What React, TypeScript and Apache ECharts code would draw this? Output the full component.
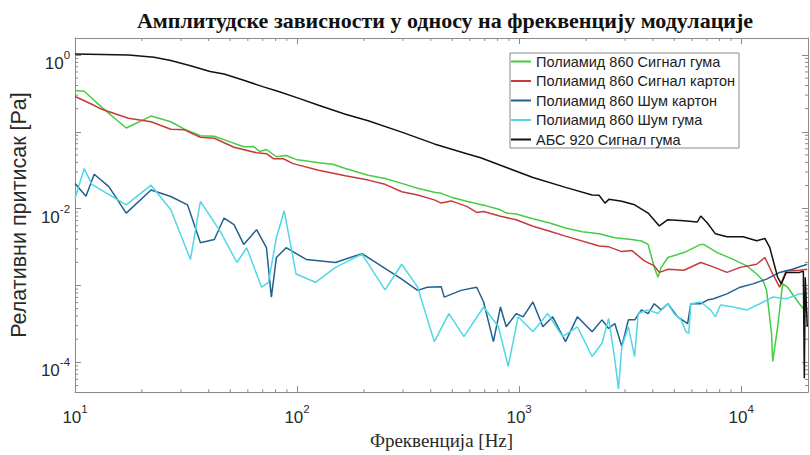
import React, { useEffect, useRef } from "react";
import * as echarts from "echarts";

const TITLE = "Амплитудске зависности у односу на фреквенцију модулације";
const X_NAME = "Фреквенција [Hz]";
const Y_NAME = "Релативни притисак [Pa]";
const SERIES_NAMES = [
  "Полиамид 860 Сигнал гума",
  "Полиамид 860 Сигнал картон",
  "Полиамид 860 Шум картон",
  "Полиамид 860 Шум гума",
  "АБС 920 Сигнал гума",
];
const SERIES_COLORS = ["#45cc45", "#c83a3a", "#22608e", "#4fd8e4", "#111111"];

const X_MIN = 10;
const X_MAX = 20000;
const Y_MIN = 4.1e-5;
const Y_MAX = 1.66;

const GREEN: [number, number][] = [
  [10, 0.344], [11, 0.337], [13.2, 0.208], [17, 0.112], [22, 0.16], [27, 0.135], [31.1, 0.108],
  [36.7, 0.089], [42.4, 0.0874], [49.9, 0.0738], [57.5, 0.0637], [63.7, 0.0642], [67.8, 0.0554],
  [72.8, 0.0588], [80.7, 0.0473], [89.3, 0.0492], [99, 0.0437], [125, 0.0396], [145, 0.0377],
  [165, 0.0332], [209, 0.0272], [249, 0.0247], [296, 0.0213], [349, 0.0184], [415, 0.0163],
  [446, 0.0158], [494, 0.0141], [581, 0.0125], [692, 0.0111], [824, 0.00966], [875, 0.00875],
  [970, 0.0085], [1154, 0.0074], [1374, 0.00651], [1618, 0.00561], [1925, 0.00499], [2291, 0.0047],
  [2697, 0.00418], [3213, 0.00397], [3556, 0.00379], [3810, 0.00342], [4062, 0.00172], [4220, 0.00128],
  [4365, 0.00172], [4675, 0.00231], [5525, 0.00268], [6575, 0.00342], [6780, 0.00342], [7800, 0.00268],
  [9210, 0.00219], [10600, 0.0018], [11740, 0.00141], [12530, 0.00117], [13010, 0.00087],
  [13700, 0.000238], [13870, 0.000103], [14600, 0.00029], [15370, 0.00105], [16180, 0.00095],
  [18290, 0.000579], [19850, 0.000431],
];

const RED: [number, number][] = [
  [10, 0.288], [11.9, 0.228], [13.2, 0.196], [17.4, 0.15], [22, 0.135], [27, 0.108], [31.1, 0.106],
  [36.7, 0.0849], [42.4, 0.0824], [52, 0.063], [65.7, 0.0533], [72.8, 0.0518], [78.2, 0.0446],
  [86.7, 0.0446], [96, 0.0385], [125, 0.0315], [165, 0.0267], [209, 0.0235], [249, 0.0207],
  [296, 0.0166], [349, 0.015], [415, 0.013], [446, 0.0118], [494, 0.0126], [581, 0.0107],
  [644, 0.00893], [692, 0.0092], [824, 0.00794], [970, 0.00718], [1154, 0.0059], [1374, 0.00509],
  [1618, 0.00439], [2291, 0.00326], [2536, 0.00318], [2900, 0.00276], [3213, 0.00286], [3666, 0.00209],
  [4062, 0.0018], [4278, 0.00148], [4690, 0.00163], [5525, 0.00158], [6575, 0.00199], [7280, 0.0018],
  [8630, 0.00148], [9900, 0.00172], [11740, 0.00189], [12790, 0.00231], [13870, 0.00141],
  [14900, 0.00095], [15960, 0.00156], [18290, 0.00158], [19850, 0.00163],
];

const DARK_BLUE: [number, number][] = [
  [10, 0.0213], [11.2, 0.0145], [12.2, 0.028], [14.2, 0.0193], [17, 0.00875], [22, 0.0175],
  [27, 0.0144], [32.1, 0.0112], [36.7, 0.0036], [42.4, 0.00397], [46.9, 0.00755], [52, 0.0062],
  [57.5, 0.00342], [65.7, 0.00533], [72.8, 0.0031], [76.6, 0.000706], [80.7, 0.00231], [89.3, 0.0031],
  [110, 0.00218], [149, 0.00199], [196, 0.0026], [296, 0.00121], [349, 0.000864], [386, 0.00095],
  [446, 0.00096], [460, 0.000706], [547, 0.000864], [644, 0.00095], [692, 0.000609], [766, 0.000186],
  [824, 0.000525], [875, 0.00029], [970, 0.000431], [1042, 0.000391], [1154, 0.000609], [1279, 0.00029],
  [1416, 0.000391], [1618, 0.000186], [1829, 0.000391], [2132, 0.00025], [2362, 0.000357],
  [2530, 0.000276], [2697, 0.00032], [2900, 0.000161], [3105, 0.000357], [3313, 0.000357],
  [3556, 0.000481], [3810, 0.000431], [4062, 0.000579], [4365, 0.000481], [4675, 0.000579],
  [5180, 0.000391], [5740, 0.00032], [5930, 0.000579], [6575, 0.000579], [7045, 0.000646],
  [7510, 0.000671], [8630, 0.000778], [9900, 0.00095], [11300, 0.00105], [13010, 0.00121],
  [14900, 0.00148], [17030, 0.00163], [19850, 0.00189],
];

const CYAN: [number, number][] = [
  [10, 0.0136], [11, 0.0332], [11.9, 0.0207], [17, 0.0112], [22, 0.0202], [27, 0.00966],
  [33.1, 0.00218], [36.7, 0.0124], [45, 0.00509], [53.6, 0.00199], [59.3, 0.0031], [69.2, 0.00095],
  [74.3, 0.0011], [80.7, 0.00418], [87.5, 0.00937], [99, 0.00141], [121, 0.0011], [149, 0.00172],
  [196, 0.00256], [249, 0.000877], [296, 0.00189], [349, 0.00095], [415, 0.000186], [483, 0.000431],
  [564, 0.000216], [692, 0.000525], [807, 0.00029], [893, 0.0000889], [990, 0.000391], [1154, 0.00025],
  [1345, 0.000431], [1570, 0.000216], [1829, 0.00029], [2132, 0.000119], [2362, 0.000177],
  [2530, 0.000372], [2697, 0.000109], [2803, 0.000045], [2900, 0.000161], [3105, 0.00029],
  [3313, 0.000119], [3437, 0.000431], [3810, 0.000481], [4220, 0.000431], [4500, 0.000525],
  [4675, 0.000579], [4990, 0.000431], [5360, 0.000357], [5640, 0.00025], [5810, 0.000238],
  [5930, 0.000579], [6575, 0.000609], [7280, 0.000481], [7660, 0.000391], [8070, 0.000557],
  [9210, 0.000525], [10600, 0.000481], [12140, 0.000579], [13870, 0.000706], [15960, 0.000671],
  [18290, 0.000778], [19850, 0.000778],
];

const BLACK: [number, number][] = [
  [10, 1.03], [17.4, 1.0], [22.7, 0.934], [27, 0.845], [33.1, 0.722], [40.6, 0.61], [46.9, 0.565],
  [57.5, 0.467], [70.6, 0.384], [83.2, 0.331], [102, 0.272], [125, 0.221], [165, 0.169], [209, 0.139],
  [296, 0.099], [415, 0.0695], [581, 0.0518], [671, 0.0459], [824, 0.0366], [1154, 0.0254],
  [1618, 0.0189], [2132, 0.015], [2291, 0.0149], [2436, 0.0118], [2536, 0.0132], [2900, 0.0125],
  [3313, 0.0112], [3810, 0.00875], [4278, 0.00596], [4675, 0.00718], [5525, 0.00697], [6350, 0.0067],
  [6575, 0.008], [7045, 0.00651], [7660, 0.0047], [8630, 0.0043], [10210, 0.0043], [11740, 0.00382],
  [12790, 0.00409], [13460, 0.0031], [14600, 0.00128], [15160, 0.00105], [15960, 0.00148],
  [18290, 0.00148], [19060, 0.00153], [19250, 0.0000622], [19440, 0.00128], [19850, 0.00029],
];

const SERIES_DATA = [GREEN, RED, DARK_BLUE, CYAN, BLACK];

const AXIS_COLOR = "#8a8a8a";
const LABEL_COLOR = "#2a2a2a";
const SANS = "'Liberation Sans', Arial, sans-serif";
const SERIF = "'Liberation Serif', 'Times New Roman', serif";

function powLabel(onlyEven: boolean) {
  return (v: number) => {
    const l = Math.log10(v);
    const e = Math.round(l);
    if (Math.abs(l - e) > 1e-6) return "";
    if (onlyEven && e % 2 !== 0) return "";
    return `{b|10}{s|${e === 0 ? 0 : e}}`;
  };
}

const richLabel = {
  b: { fontSize: 17, fontFamily: SANS, color: LABEL_COLOR, verticalAlign: "bottom", lineHeight: 23 },
  s: { fontSize: 11.5, fontFamily: SANS, color: LABEL_COLOR, verticalAlign: "top", lineHeight: 23 },
};

export default function App() {
  const ref = useRef<HTMLDivElement>(null);
  useEffect(() => {
    const chart = echarts.init(ref.current!, null, { renderer: "svg" });
    const baseAxis = {
      type: "log",
      logBase: 10,
      axisLine: { show: true, lineStyle: { color: AXIS_COLOR, width: 1 } },
      axisTick: { show: true, inside: true, length: 6, lineStyle: { color: AXIS_COLOR } },
      splitLine: { show: false },
      minorTick: { show: false },
    };
    chart.setOption({
      animation: false,
      backgroundColor: "#ffffff",
      grid: { left: 66, top: 38, width: 742, height: 358, containLabel: false },
      legend: {
        orient: "vertical",
        left: 510,
        top: 53,
        padding: [1, 4, 1, 0],
        itemWidth: 20,
        itemHeight: 14,
        itemGap: 4.5,
        backgroundColor: "#ffffff",
        borderColor: "#8a8a8a",
        borderWidth: 1,
        borderRadius: 0,
        itemStyle: { opacity: 0 },
        textStyle: { fontFamily: SANS, fontSize: 14.5, color: "#222" },
        data: SERIES_NAMES,
      },
      xAxis: [
        {
          ...baseAxis,
          position: "bottom",
          min: X_MIN,
          max: X_MAX,
          name: X_NAME,
          nameLocation: "middle",
          nameGap: 37,
          nameTextStyle: { fontFamily: SERIF, fontSize: 19, color: LABEL_COLOR },
          axisLabel: {
            show: true,
            margin: 11,
            formatter: powLabel(false),
            rich: richLabel,
            showMinLabel: true,
            showMaxLabel: false,
          },
        },
        {
          ...baseAxis,
          position: "top",
          min: X_MIN,
          max: X_MAX,
          axisLabel: { show: false },
        },
      ],
      yAxis: [
        {
          ...baseAxis,
          position: "left",
          min: Y_MIN,
          max: Y_MAX,
          name: Y_NAME,
          nameLocation: "middle",
          nameGap: 31,
          nameTextStyle: { fontFamily: SANS, fontSize: 21.5, color: LABEL_COLOR },
          axisLabel: {
            show: true,
            margin: 5,
            padding: [11, 0, 0, 0],
            formatter: powLabel(true),
            rich: richLabel,
            showMinLabel: false,
            showMaxLabel: false,
          },
        },
        {
          ...baseAxis,
          position: "right",
          min: Y_MIN,
          max: Y_MAX,
          axisLabel: { show: false },
        },
      ],
      series: SERIES_DATA.map((d, i) => ({
        name: SERIES_NAMES[i],
        type: "line",
        xAxisIndex: 0,
        yAxisIndex: 0,
        data: d,
        symbol: "none",
        showSymbol: false,
        clip: true,
        color: SERIES_COLORS[i],
        lineStyle: { color: SERIES_COLORS[i], width: 1.5 },
        z: 2 + i,
      })),
    });

    // MATLAB-style minor ticks placed through the axes' own scales
    const graphics: any[] = [];
    const xl = chart.convertToPixel({ xAxisIndex: 0 }, X_MIN) as number;
    const xr = chart.convertToPixel({ xAxisIndex: 0 }, X_MAX) as number;
    const yb = chart.convertToPixel({ yAxisIndex: 0 }, Y_MIN) as number;
    const yt = chart.convertToPixel({ yAxisIndex: 0 }, Y_MAX) as number;
    const tickStyle = { stroke: AXIS_COLOR, lineWidth: 1 };
    for (let d = 1; d <= 4; d++) {
      for (let k = 2; k <= 9; k++) {
        const v = k * Math.pow(10, d);
        if (v >= X_MAX) continue;
        const px = chart.convertToPixel({ xAxisIndex: 0 }, v) as number;
        graphics.push({ type: "line", silent: true, shape: { x1: px, y1: yb, x2: px, y2: yb - 3 }, style: tickStyle });
        graphics.push({ type: "line", silent: true, shape: { x1: px, y1: yt, x2: px, y2: yt + 3 }, style: tickStyle });
      }
    }
    for (let d = -5; d <= 0; d++) {
      for (let k = 2; k <= 9; k++) {
        const v = k * Math.pow(10, d);
        if (v <= Y_MIN || v >= Y_MAX) continue;
        const py = chart.convertToPixel({ yAxisIndex: 0 }, v) as number;
        graphics.push({ type: "line", silent: true, shape: { x1: xl, y1: py, x2: xl + 3, y2: py }, style: tickStyle });
        graphics.push({ type: "line", silent: true, shape: { x1: xr, y1: py, x2: xr - 3, y2: py }, style: tickStyle });
      }
    }
    graphics.push({
      type: "text",
      x: 445,
      y: 20,
      silent: true,
      style: {
        text: TITLE,
        fontFamily: SERIF,
        fontWeight: "bold",
        fontSize: 22,
        fill: "#111",
        align: "center",
        verticalAlign: "middle",
      },
    });
    chart.setOption({ graphic: graphics });

    return () => chart.dispose();
  }, []);
  return <div ref={ref} style={{ position: "fixed", left: 0, top: 0, width: 810, height: 455 }} />;
}
